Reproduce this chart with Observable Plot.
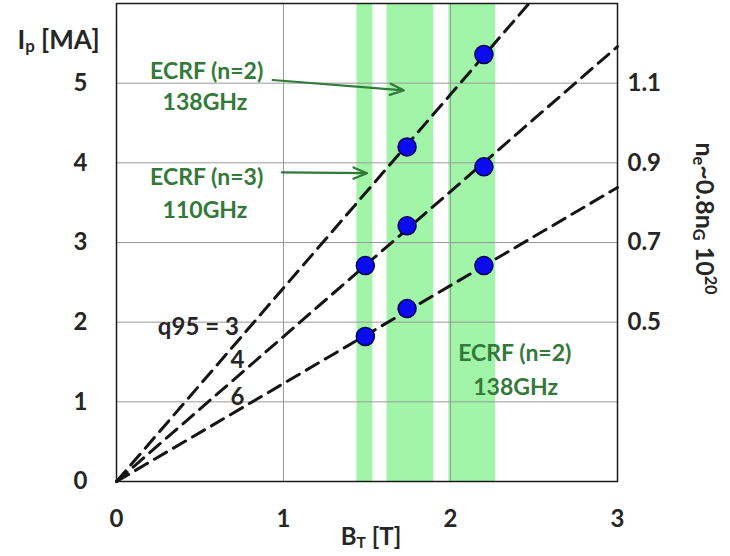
<!DOCTYPE html>
<html><head><meta charset="utf-8">
<script src="https://cdn.jsdelivr.net/npm/d3@7"></script>
<script src="https://cdn.jsdelivr.net/npm/@observablehq/plot@0.6"></script>
<style>body{margin:0;background:#fff} #chart{width:730px;height:556px}</style>
</head><body><div id="chart"></div>
<script>
// ---- data ----
const xTicks = [0, 1, 2, 3];
const yTicks = [0, 1, 2, 3, 4, 5];
const densityTickIp = [2, 3, 4, 5];
const densityLabels = ["0.5", "0.7", "0.9", "1.1"];
const bandStart = [1.44, 1.62, 1.99];
const bandEnd = [1.535, 1.90, 2.27];
const q95 = [3, 4, 6];
const lineEndBT = [2.47, 3, 3];
const lineEndIp = [6, 5.46, 3.69];
const pointBT = [1.49, 1.49, 1.74, 1.74, 1.74, 2.20, 2.20, 2.20];
const pointIp = [2.71, 1.82, 4.20, 3.21, 2.17, 5.36, 3.95, 2.71];
const q95Labels = ["q95 = 3", "4", "6"];
const q95LabelBT = [0.49, 0.725, 0.725];
const q95LabelIp = [1.94, 1.52, 1.06];
const ecrfLabels = ["ECRF (n=2)", "138GHz", "ECRF (n=3)", "110GHz", "ECRF (n=2)", "138GHz"];
const ecrfBT = [0.54, 0.53, 0.54, 0.53, 2.385, 2.39];
const ecrfIp = [5.15, 4.76, 3.82, 3.40, 1.61, 1.18];
const arrowBT1 = [0.935, 0.99];
const arrowIp1 = [5.04, 3.88];
const arrowBT2 = [1.72, 1.50];
const arrowIp2 = [4.91, 3.87];

// ---- tables built from the arrays ----
const bands = bandStart.map((s, i) => ({s, e: bandEnd[i]}));
const lines = q95.flatMap((q, i) => [{q, bt: 0, ip: 0}, {q, bt: lineEndBT[i], ip: lineEndIp[i]}]);
const points = pointBT.map((bt, i) => ({bt, ip: pointIp[i]}));
const qlab = q95Labels.map((t, i) => ({t, bt: q95LabelBT[i], ip: q95LabelIp[i]}));
const elab = ecrfLabels.map((t, i) => ({t, bt: ecrfBT[i], ip: ecrfIp[i]}));
const arrows = arrowBT1.map((b, i) => ({x1: b, y1: arrowIp1[i], x2: arrowBT2[i], y2: arrowIp2[i]}));
const dens = densityTickIp.map((ip, i) => ({ip, t: densityLabels[i]}));

const FONT = "Lato, 'Open Sans', sans-serif";
const TXT = "#262626";
const GREEN = "#33793a";

const chart = Plot.plot({
  width: 730, height: 556,
  marginLeft: 116, marginRight: 113, marginTop: 3, marginBottom: 75,
  style: {fontFamily: FONT, background: "#fff", overflow: "visible"},
  x: {domain: [0, 3]},
  y: {domain: [0, 6]},
  marks: [
    Plot.rect(bands, {x1: "s", x2: "e", fill: "#a2f5a8"}),
    Plot.gridX([1, 2], {stroke: "#9a9a9a", strokeOpacity: 1, strokeWidth: 1}),
    Plot.gridY([1, 2, 3, 4, 5], {stroke: "#9a9a9a", strokeOpacity: 1, strokeWidth: 1}),
    Plot.line(lines, {x: "bt", y: "ip", z: "q", stroke: "#151515", strokeWidth: 3, strokeDasharray: "14,8"}),
    Plot.dot(points, {x: "bt", y: "ip", r: 9, fill: "#0b0bef", stroke: "#000055", strokeWidth: 1.5}),
    Plot.arrow(arrows, {x1: "x1", y1: "y1", x2: "x2", y2: "y2", stroke: GREEN, strokeWidth: 2.2, headLength: 10, headAngle: 45}),
    Plot.frame({stroke: "#1a1a1a", strokeWidth: 1.5}),
    Plot.axisX(xTicks, {tickSize: 0, tickPadding: 28, fontSize: 24, fontWeight: "bold", fill: TXT, label: null, tickFormat: d => String(d)}),
    Plot.axisY(yTicks, {tickSize: 0, tickPadding: 29, fontSize: 24, fontWeight: "bold", fill: TXT, label: null, tickFormat: d => String(d)}),
    Plot.text(dens, {y: "ip", text: "t", frameAnchor: "right", textAnchor: "start", dx: 10, fontSize: 24, fontWeight: "bold", fill: TXT}),
    Plot.text(qlab, {x: "bt", y: "ip", text: "t", fontSize: 24, fontWeight: "bold", fill: TXT}),
    Plot.text(elab, {x: "bt", y: "ip", text: "t", fontSize: 23, fontWeight: "bold", fill: GREEN}),
    Plot.text(["I_{p} [MA]"], {frameAnchor: "top-left", textAnchor: "middle", dx: -58, dy: 27, fontSize: 26, fontWeight: "bold", fill: TXT, className: "rich"}),
    Plot.text(["B_{T} [T]"], {frameAnchor: "bottom", textAnchor: "middle", dx: 4, dy: 63, fontSize: 24, fontWeight: "bold", fill: TXT, className: "rich"}),
    Plot.text(["n_{e}~0.8n_{G} 10^{20}"], {frameAnchor: "right", textAnchor: "middle", rotate: 90, dx: 86, dy: -24, fontSize: 25, fontWeight: "bold", fill: TXT, className: "rich"})
  ]
});

// rich text: subscripts / superscripts as tspans
d3.select(chart).selectAll("g.rich text").each(function() {
  const el = d3.select(this);
  const src = el.text();
  el.text(null);
  src.split(/(_\{[^}]*\}|\^\{[^}]*\})/).filter(s => s.length).forEach(part => {
    if (part.startsWith("_{")) {
      el.append("tspan").attr("font-size", "65%").attr("baseline-shift", "-20%").text(part.slice(2, -1));
    } else if (part.startsWith("^{")) {
      el.append("tspan").attr("font-size", "65%").attr("baseline-shift", "super").text(part.slice(2, -1));
    } else {
      el.append("tspan").text(part);
    }
  });
});

document.getElementById("chart").appendChild(chart);
</script>
</body></html>
